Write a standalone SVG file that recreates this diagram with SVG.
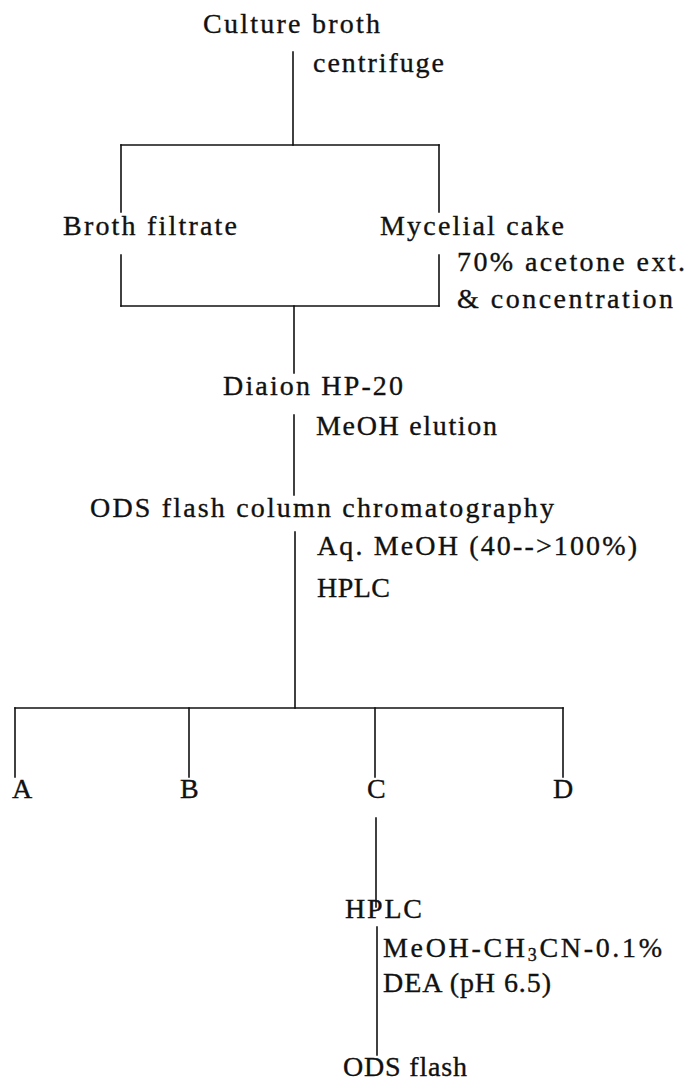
<svg xmlns="http://www.w3.org/2000/svg" width="695" height="1083" viewBox="0 0 695 1083">
<style>
text{font-family:"Liberation Serif","Times New Roman",serif;font-size:28px;fill:#111;stroke:#111;stroke-width:0.35;}
.c line{stroke:#111;stroke-width:1.6;stroke-linecap:square;}
</style>
<rect width="695" height="1083" fill="#fff"/>
<g id="connectors" class="c">
<line x1="293" y1="52" x2="293" y2="145"/>
<line x1="121" y1="145" x2="439" y2="145"/>
<line x1="121" y1="145" x2="121" y2="212"/>
<line x1="439" y1="145" x2="439" y2="212"/>
<line x1="121" y1="255" x2="121" y2="306"/>
<line x1="439" y1="255" x2="439" y2="306"/>
<line x1="121" y1="306" x2="439" y2="306"/>
<line x1="294" y1="306" x2="294" y2="373"/>
<line x1="294" y1="415" x2="294" y2="495"/>
<line x1="295" y1="532" x2="295" y2="708"/>
<line x1="15" y1="708" x2="563" y2="708"/>
<line x1="15" y1="708" x2="15" y2="777"/>
<line x1="189" y1="708" x2="189" y2="777"/>
<line x1="375" y1="708" x2="375" y2="777"/>
<line x1="563" y1="708" x2="563" y2="777"/>
<line x1="376" y1="818" x2="376" y2="907"/>
<line x1="377" y1="927" x2="377" y2="1055"/>
</g>
<g id="culture-broth"><text x="203" y="33" textLength="177" lengthAdjust="spacing">Culture broth</text></g>
<g id="centrifuge"><text x="313" y="72" textLength="131" lengthAdjust="spacing">centrifuge</text></g>
<g id="broth-filtrate"><text x="63" y="235" textLength="174" lengthAdjust="spacing">Broth filtrate</text></g>
<g id="mycelial-cake"><text x="380" y="235" textLength="184" lengthAdjust="spacing">Mycelial cake</text></g>
<g id="acetone-ext"><text x="457" y="271" textLength="228" lengthAdjust="spacing">70% acetone ext.</text>
<text x="457" y="308" textLength="216" lengthAdjust="spacing">&amp; concentration</text></g>
<g id="diaion"><text x="223" y="395" textLength="180" lengthAdjust="spacing">Diaion HP-20</text></g>
<g id="meoh-elution"><text x="316" y="435" textLength="181" lengthAdjust="spacing">MeOH elution</text></g>
<g id="ods-flash-column"><text x="90" y="517" textLength="464" lengthAdjust="spacing">ODS flash column chromatography</text></g>
<g id="aq-meoh"><text x="317" y="555" textLength="320" lengthAdjust="spacing">Aq. MeOH (40-->100%)</text>
<text x="317" y="597" textLength="73" lengthAdjust="spacing">HPLC</text></g>
<g id="A"><text x="12" y="798">A</text></g>
<g id="B"><text x="180" y="798">B</text></g>
<g id="C"><text x="367" y="798">C</text></g>
<g id="D"><text x="553" y="798">D</text></g>
<g id="hplc2"><text x="345" y="918" textLength="77" lengthAdjust="spacing">HPLC</text></g>
<g id="hplc-conditions"><text x="383" y="957" textLength="279" lengthAdjust="spacing">MeOH-CH<tspan font-size="18" dy="4">3</tspan><tspan dy="-4">CN-0.1%</tspan></text>
<text x="383" y="992" textLength="168" lengthAdjust="spacing">DEA (pH 6.5)</text></g>
<g id="ods-flash"><text x="343" y="1076" textLength="124" lengthAdjust="spacing">ODS flash</text></g>
</svg>
